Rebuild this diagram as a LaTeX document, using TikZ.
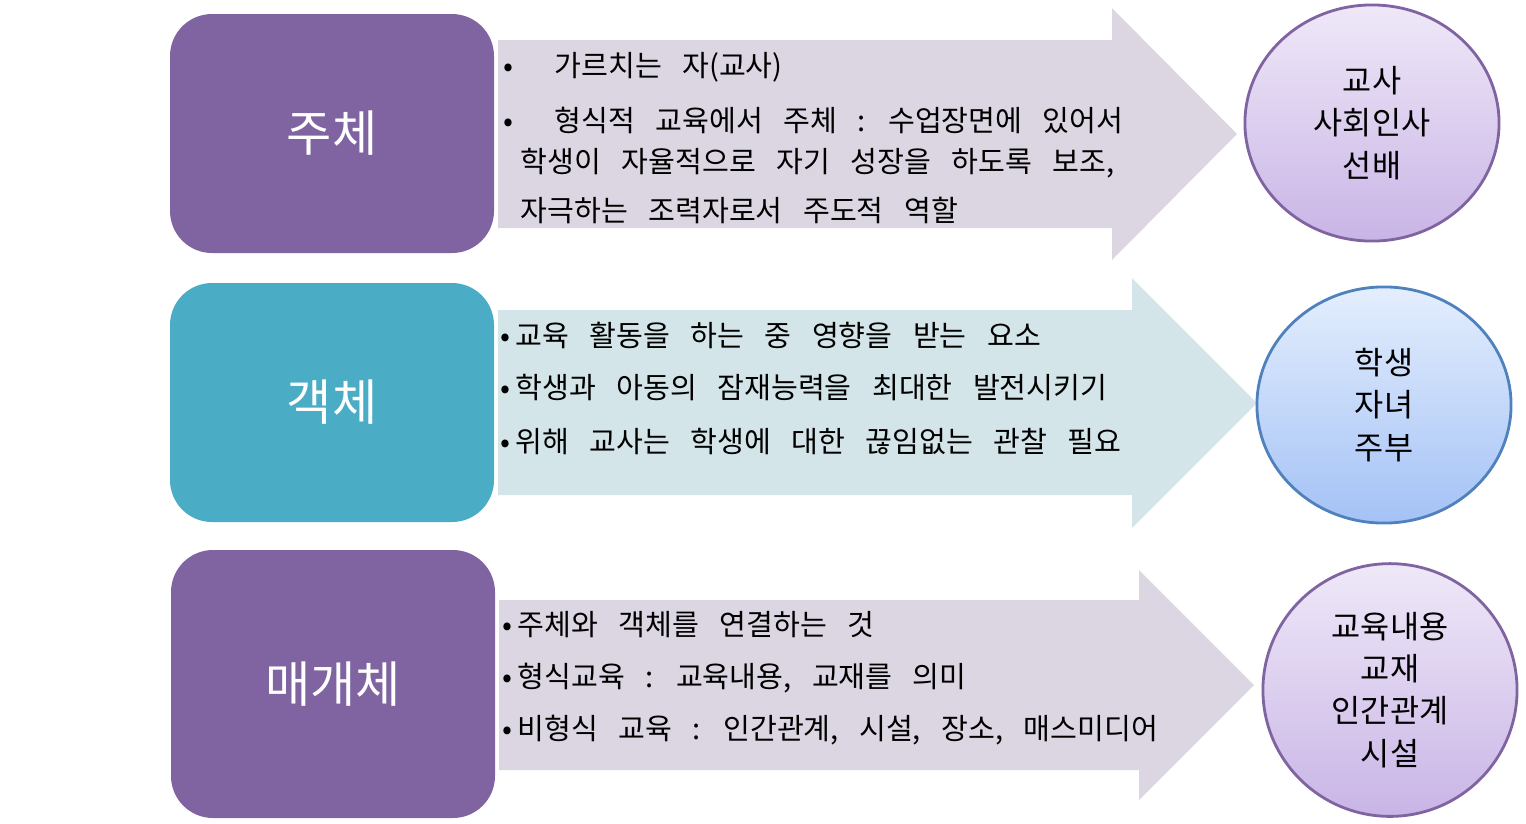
\documentclass[tikz,border=0pt]{standalone}
\usepackage{fontspec}
\setmainfont{Noto Sans CJK KR}
\usetikzlibrary{shapes.geometric}
\definecolor{boxpurple}{HTML}{8064A2}
\definecolor{boxteal}{HTML}{4BACC6}
\definecolor{arrpurple}{HTML}{DCD6E3}
\definecolor{arrteal}{HTML}{D4E5EA}
\definecolor{lavtop}{HTML}{EFE8F8}
\definecolor{lavbot}{HTML}{C9B5E6}
\definecolor{bluetop}{HTML}{E4EEFD}
\definecolor{bluebot}{HTML}{A4C2F6}
\definecolor{blueline}{HTML}{4F81BD}
\newcommand\widesp{\spaceskip=0.7em plus 0.1em\relax}
\tikzset{
  headbox/.style={text=white, font=\fontsize{14}{16}\selectfont},
  listtext/.style={anchor=west, font=\fontsize{8.3}{10}\selectfont\widesp, align=left, inner sep=0pt},
  roundel/.style={ellipse, draw, thick, minimum width=2.54cm, minimum height=2.36cm,
    align=center, font=\fontsize{9}{12}\selectfont}
}
\begin{document}
\begin{tikzpicture}[x=0.01cm,y=-0.01cm]
\useasboundingbox (0,0) rectangle (1526,823);
%arrows
\fill[arrpurple] (498,40) -- (1112,40) -- (1112,8) -- (1237,134) -- (1112,260) -- (1112,228) -- (498,228) -- cycle;
\fill[arrteal] (498,310) -- (1132,310) -- (1132,278) -- (1257,403) -- (1132,528) -- (1132,495) -- (498,495) -- cycle;
\fill[arrpurple] (499,600) -- (1139,600) -- (1139,570) -- (1254,685) -- (1139,800) -- (1139,770) -- (499,770) -- cycle;
%left boxes
\path[fill=boxpurple,rounded corners=0.42cm] (170,14) rectangle (494,253);
\node[headbox] (subj) at (332,133) {주체};
\path[fill=boxteal,rounded corners=0.42cm] (170,283) rectangle (494,522);
\node[headbox] (obj) at (332,402) {객체};
\path[fill=boxpurple,rounded corners=0.42cm] (171,550) rectangle (495,818);
\node[headbox] (medium) at (333,684) {매개체};
%bullet texts
\node[listtext] (s1) at (503,67) {•\ \ 가르치는 자(교사)};
\node[listtext] (s2) at (503,120) {•\ \ 형식적 교육에서 주체 : 수업장면에 있어서};
\node[listtext] (s3) at (520,163) {학생이 자율적으로 자기 성장을 하도록 보조,};
\node[listtext] (s4) at (520,210) {자극하는 조력자로서 주도적 역할};
\node[listtext] (o1) at (500,335) {•\,교육 활동을 하는 중 영향을 받는 요소};
\node[listtext] (o2) at (500,388) {•\,학생과 아동의 잠재능력을 최대한 발전시키기};
\node[listtext] (o3) at (500,441) {•\,위해 교사는 학생에 대한 끊임없는 관찰 필요};
\node[listtext] (m1) at (502,625) {•\,주체와 객체를 연결하는 것};
\node[listtext] (m2) at (502,678) {•\,형식교육 : 교육내용, 교재를 의미};
\node[listtext] (m3) at (502,730) {•\,비형식 교육 : 인간관계, 시설, 장소, 매스미디어};
%ellipses
\node[roundel, draw=boxpurple, top color=lavtop, bottom color=lavbot] (who) at (1372,123) {교사\\사회인사\\선배};
\node[roundel, draw=blueline, top color=bluetop, bottom color=bluebot] (whom) at (1384,405) {학생\\자녀\\주부};
\node[roundel, draw=boxpurple, top color=lavtop, bottom color=lavbot] (what) at (1390,690) {교육내용\\교재\\인간관계\\시설};
\end{tikzpicture}
\end{document}
